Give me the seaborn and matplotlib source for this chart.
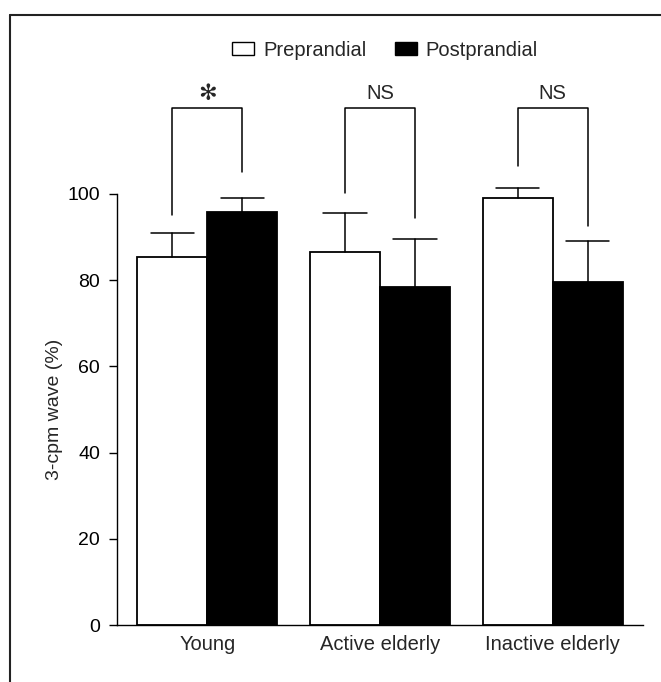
import matplotlib
matplotlib.use("Agg")
import matplotlib.pyplot as plt
import seaborn as sns
import pandas as pd
import numpy as np
from matplotlib.lines import Line2D

# ---- data ----
groups = ["Young", "Active elderly", "Inactive elderly"]
conditions = ["Preprandial", "Postprandial"]
pre_vals = [85.3, 86.5, 99.1]
post_vals = [95.8, 78.5, 79.5]
pre_err = [5.6, 9.0, 2.4]
post_err = [3.3, 11.1, 9.5]
sig_labels = ["*", "NS", "NS"]
bracket_top = [120, 120, 120]
pre_leg_end = [95.1, 100.3, 106.6]
post_leg_end = [105.2, 94.4, 92.6]
y_ticks = [0, 20, 40, 60, 80, 100]

df = pd.DataFrame({
    "group": groups * 2,
    "condition": [conditions[0]] * 3 + [conditions[1]] * 3,
    "value": pre_vals + post_vals,
})

sns.set_theme(style="ticks")
plt.rcParams["font.family"] = ["Liberation Sans", "DejaVu Sans"]

fig = plt.figure(figsize=(6.61, 6.82), dpi=100)
ax = fig.add_axes([116.7 / 661, 1 - 625 / 682, (643.3 - 116.7) / 661, (625 - 194) / 682])

sns.barplot(data=df, x="group", y="value", hue="condition", order=groups,
            hue_order=conditions, palette={"Preprandial": "white", "Postprandial": "black"},
            edgecolor="black", linewidth=1.3, width=0.81, errorbar=None, ax=ax,
            saturation=1)

# error bars (upper only)
bars = [p for p in ax.patches if p.get_height() > 0]
bars.sort(key=lambda p: p.get_x())
errs = []
for i in range(3):
    errs += [pre_err[i], post_err[i]]
xs = [p.get_x() + p.get_width() / 2 for p in bars]
hs = [p.get_height() for p in bars]
for x, h, e in zip(xs, hs, errs):
    ax.plot([x, x], [h, h + e], color="black", lw=1.1, clip_on=False, zorder=3)
    ax.plot([x - 0.125, x + 0.125], [h + e, h + e], color="black", lw=1.1,
            clip_on=False, zorder=3)

# significance brackets
for i in range(3):
    xl, xr = xs[2 * i], xs[2 * i + 1]
    top = bracket_top[i]
    ax.plot([xl, xl, xr, xr], [pre_leg_end[i], top, top, post_leg_end[i]],
            color="black", lw=1.1, clip_on=False)
    if sig_labels[i] == "*":
        ax.text((xl + xr) / 2, top + 3.3, "✻", ha="center", va="center",
                fontsize=16, family=["DejaVu Sans"], clip_on=False)
    else:
        ax.text((xl + xr) / 2, top + 3.3, sig_labels[i], ha="center", va="center",
                fontsize=14.5, clip_on=False)

ax.set_ylim(0, 100)
ax.set_xlim(-0.525, 2.525)
ax.set_yticks(y_ticks)
ax.set_yticklabels([str(t) for t in y_ticks], fontsize=14)
ax.tick_params(axis="y", length=6, width=1, pad=6, colors="black")
ax.tick_params(axis="x", length=0, pad=7, labelsize=14.5)
ax.set_xlabel("")
ax.set_ylabel("3-cpm wave (%)", fontsize=14, labelpad=3)
for s in ["top", "right"]:
    ax.spines[s].set_visible(False)
for s in ["left", "bottom"]:
    ax.spines[s].set_color("black")
    ax.spines[s].set_linewidth(1)

leg = ax.get_legend()
if leg is not None:
    leg.remove()
handles = [plt.Rectangle((0, 0), 1, 1, facecolor="white", edgecolor="black", lw=1),
           plt.Rectangle((0, 0), 1, 1, facecolor="black", edgecolor="black", lw=1)]
fig.legend(handles, conditions, loc="center left", bbox_to_anchor=(232 / 661, 1 - 50 / 682),
           ncol=2, frameon=False, fontsize=14.5, handlelength=1.1, handleheight=0.6,
           handletextpad=0.45, columnspacing=1.4, borderpad=0, borderaxespad=0)

# figure frame (top and left edges)
fig.add_artist(Line2D([10 / 661, 1], [1 - 15 / 682, 1 - 15 / 682], color="#222222", lw=1.5,
                      transform=fig.transFigure))
fig.add_artist(Line2D([10 / 661, 10 / 661], [1 - 15 / 682, 0], color="#222222", lw=1.5,
                      transform=fig.transFigure))

fig.savefig("out.png", dpi=100)
